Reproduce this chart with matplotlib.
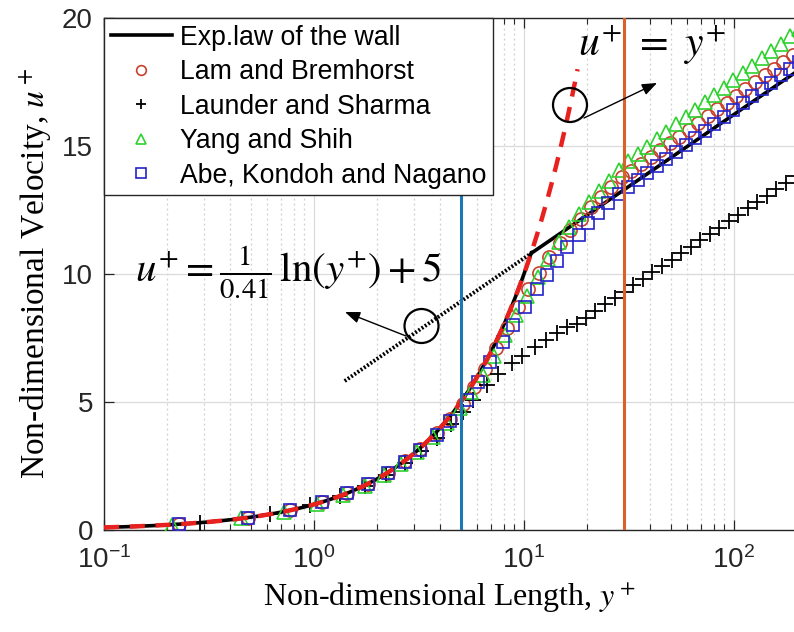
import numpy as np
import matplotlib
matplotlib.use("Agg")
import matplotlib.pyplot as plt
from matplotlib.patches import Ellipse

# ---- turbulence model profiles (y+, u+) ----
lam_y = [0.228, 0.485, 0.77, 1.09, 1.44, 1.81, 2.25, 2.71, 3.2, 3.85, 4.44, 5.1, 5.75,
         6.5, 7.35, 8.3, 9.35, 10.5, 11.8, 13.2, 14.8, 16.6, 18.6, 20.8, 23.3, 26.1,
         29.2, 32.5, 36.1, 40.1, 44.5, 49.4, 54.8, 60.8, 67.5, 74.9, 83.1, 92.2, 102,
         113, 126, 140, 155, 172, 191, 212]
lam_u = [0.228, 0.485, 0.77, 1.09, 1.44, 1.8, 2.24, 2.69, 3.16, 3.78, 4.33, 4.93, 5.6,
         6.3, 7.1, 7.9, 8.72, 9.4, 10.05, 10.65, 11.2, 11.7, 12.15, 12.6, 13.0, 13.4,
         13.78, 14.02, 14.29, 14.56, 14.83, 15.10, 15.36, 15.63, 15.90, 16.16, 16.43,
         16.69, 16.95, 17.21, 17.49, 17.76, 18.02, 18.29, 18.56, 18.82]

ls_y = [0.286, 0.62, 0.96, 1.33, 1.74, 2.2, 2.7, 3.25, 3.85, 4.5, 5.1, 5.71, 6.64, 7.5,
        8.73, 9.75, 11.3, 12.7, 14.3, 16.0, 17.8, 19.7, 21.9, 24.3, 27.0, 29.9, 33.2,
        36.9, 40.9, 45.4, 50.4, 56.0, 62.1, 69.0, 76.5, 85.0, 94.3, 104.7, 116, 129,
        143, 159, 177, 196]
ls_u = [0.286, 0.62, 0.96, 1.32, 1.72, 2.15, 2.6, 3.1, 3.6, 4.15, 4.6, 5.08, 5.66, 6.09,
        6.52, 6.8, 7.15, 7.42, 7.7, 7.93, 8.06, 8.30, 8.56, 8.81, 9.06, 9.31, 9.56,
        9.81, 10.06, 10.31, 10.56, 10.81, 11.06, 11.31, 11.56, 11.81, 12.06, 12.31,
        12.56, 12.81, 13.06, 13.32, 13.57, 13.82]

ys_y = [0.21, 0.45, 0.72, 1.03, 1.37, 1.74, 2.15, 2.6, 3.1, 3.7, 4.3, 4.95, 5.6, 6.35,
        7.2, 8.15, 9.2, 10.35, 11.6, 13.0, 14.6, 16.3, 18.2, 20.3, 22.7, 25.3, 28.2,
        31.4, 34.9, 38.7, 43.0, 47.7, 53.0, 58.8, 65.2, 72.4, 80.4, 89.2, 99, 110, 122,
        135.5, 150, 167, 185, 205]
ys_u = [0.21, 0.45, 0.72, 1.03, 1.37, 1.73, 2.13, 2.57, 3.05, 3.62, 4.18, 4.78, 5.38,
        6.05, 6.8, 7.6, 8.4, 9.15, 9.9, 10.6, 11.25, 11.85, 12.35, 12.8, 13.25, 13.65,
        14.05, 14.4, 14.69, 14.97, 15.26, 15.55, 15.84, 16.12, 16.41, 16.70, 16.99,
        17.27, 17.56, 17.85, 18.13, 18.42, 18.70, 19.0, 19.28, 19.56]

akn_y = [0.228, 0.485, 0.77, 1.09, 1.44, 1.81, 2.25, 2.71, 3.2, 3.85, 4.44, 5.33, 6.04,
         6.89, 7.96, 8.89, 10.1, 11.5, 12.8, 14.3, 16.0, 18.2, 20.2, 22.6, 25.2, 28.4,
         31.4, 34.9, 38.7, 43.0, 47.7, 53.0, 58.8, 65.2, 72.4, 80.4, 89.2, 99, 110, 122,
         135.5, 150, 167, 185, 205]
akn_u = [0.228, 0.485, 0.77, 1.09, 1.43, 1.8, 2.22, 2.66, 3.13, 3.72, 4.25, 5.08, 5.79,
         6.57, 7.36, 8.0, 8.72, 9.4, 9.96, 10.52, 11.07, 11.52, 12.0, 12.39, 12.76,
         13.11, 13.41, 13.68, 13.95, 14.23, 14.50, 14.77, 15.04, 15.31, 15.58, 15.85,
         16.12, 16.40, 16.67, 16.94, 17.21, 17.48, 17.76, 18.02, 18.29]

# ---- law of the wall constants (as written on the chart) ----
KAPPA = 0.41
B_CONST = 5.0
Y_SUBLAYER_END = 11.0
Y_LINEAR_END = 18.0
Y_LOG_DOTTED_START = 1.4
Y_WALL_LIMITS = (0.1, 200.0)
Y_BUFFER_LIMITS = (5.0, 30.0)

FIG_W, FIG_H = 794, 632


def fig_px(x, y):
    """Figure fraction from pixel position measured from the top-left corner."""
    return x / FIG_W, 1 - y / FIG_H


plt.rcParams['font.family'] = ['Liberation Sans', 'DejaVu Sans']
plt.rcParams['mathtext.fontset'] = 'custom'
plt.rcParams['mathtext.rm'] = 'Liberation Sans'
plt.rcParams['mathtext.it'] = 'Liberation Sans:italic'

fig = plt.figure(figsize=(FIG_W / 100, FIG_H / 100), dpi=100)
ax = fig.add_axes([104 / FIG_W, 1 - 530 / FIG_H, 1 - 104 / FIG_W, 512 / FIG_H])

# experimental law of the wall: viscous sublayer then log layer
y_wall = np.geomspace(Y_WALL_LIMITS[0], Y_WALL_LIMITS[1], 400)
u_wall = np.where(y_wall <= Y_SUBLAYER_END, y_wall,
                  np.log(y_wall) / KAPPA + B_CONST)
ax.plot(y_wall, u_wall, color='black', lw=2.6, zorder=2,
        label='Exp.law of the wall')

# log law extended into the buffer region
y_log = np.geomspace(Y_LOG_DOTTED_START, Y_SUBLAYER_END, 50)
ax.plot(y_log, np.log(y_log) / KAPPA + B_CONST, color='black', lw=2.8,
        ls=(0, (0.5, 0.5)), zorder=2)

mk = dict(ls='none', mfc='none', mew=1.2, zorder=3)
ax.plot(lam_y, lam_u, marker='o', ms=9.5, mec='#C8402E',
        label='Lam and Bremhorst', **mk)
ax.plot(ls_y, ls_u, marker='+', ms=12, mec='black', mew=1.3, ls='none', zorder=3,
        label='Launder and Sharma')
ax.plot(ys_y, ys_u, marker='^', ms=9.5, mec='#2FD12F',
        label='Yang and Shih', **mk)
ax.plot(akn_y, akn_u, marker='s', ms=9, mec='#2323C8',
        label='Abe, Kondoh and Nagano', **mk)

# viscous sublayer relation u+ = y+
y_lin = np.geomspace(Y_WALL_LIMITS[0], Y_LINEAR_END, 200)
ax.plot(y_lin, y_lin, color='#E8211E', lw=3.2, ls=(0, (3.4, 2.4)), zorder=4)

# buffer-layer limits
ax.axvline(Y_BUFFER_LIMITS[0], color='#1B78B4', lw=2.2, zorder=4)
ax.axvline(Y_BUFFER_LIMITS[1], color='#D9622B', lw=2.2, zorder=4)

ax.set_xscale('log')
ax.set_xlim(0.1, 10 ** (690 / 210 - 1))
ax.set_ylim(0, 20)
ax.set_yticks([0, 5, 10, 15, 20])
ax.set_xticks([0.1, 1, 10, 100])

ax.grid(which='major', color='#dadada', lw=0.9, zorder=0)
ax.grid(which='minor', axis='x', color='#cfcfcf', lw=0.9, ls=(0, (1.5, 2.5)), zorder=0)
ax.set_axisbelow(True)

ax.tick_params(which='both', direction='in', top=True, right=False,
               colors='#262626', labelcolor='#262626')
ax.tick_params(which='major', length=7, width=0.9, labelsize=20)
ax.tick_params(which='minor', length=4, width=0.8)
ax.tick_params(axis='x', which='major', pad=12)
ax.tick_params(axis='y', which='major', pad=8)
for side in ('left', 'bottom', 'top'):
    ax.spines[side].set_color('#262626')
    ax.spines[side].set_linewidth(1.0)
ax.spines['right'].set_visible(False)

ax.set_xlabel(r'Non-dimensional Length, $y^+$', family='Liberation Serif',
              fontsize=23, math_fontfamily='stix', labelpad=4)
ax.set_ylabel(r'Non-dimensional Velocity, $u^+$', family='Liberation Serif',
              fontsize=24, math_fontfamily='stix', labelpad=6)

leg = ax.legend(loc='upper left', fontsize=19.2, frameon=True, fancybox=False,
                framealpha=1, edgecolor='#262626', borderaxespad=0,
                handlelength=2.3, handletextpad=0.3, labelspacing=0.32,
                borderpad=0.25, numpoints=1)
leg.get_frame().set_linewidth(1.0)
for h in leg.legend_handles[1:]:
    h.set_markersize(7)

# annotations: circled regions with arrows to the relations
for cx, cy in ((570, 105), (421.5, 326)):
    fig.add_artist(Ellipse(fig_px(cx, cy), 34 / FIG_W, 34 / FIG_H,
                           transform=fig.transFigure, fill=False,
                           ec='black', lw=1.6, zorder=10))

arrow = dict(arrowstyle='-|>,head_length=0.9,head_width=0.35', color='black',
             lw=1.0, shrinkA=0, shrinkB=0)
ax.annotate('', xy=fig_px(657, 83), xytext=fig_px(584, 118),
            xycoords='figure fraction', textcoords='figure fraction',
            arrowprops=arrow, zorder=10)
ax.annotate('', xy=fig_px(345, 312), xytext=fig_px(406, 336),
            xycoords='figure fraction', textcoords='figure fraction',
            arrowprops=arrow, zorder=10)

fig.text(*fig_px(652, 45), r'$u^{+}\ =\ y^{+}$', ha='center', va='center',
         fontsize=30, math_fontfamily='stix', color='black')
fig.text(*fig_px(288, 272), r'$u^{+} = \frac{1}{0.41}\,\mathrm{ln}(y^{+}) + 5$',
         ha='center', va='center', fontsize=29.5, math_fontfamily='stix',
         color='black')

fig.savefig('out.png', dpi=100)
